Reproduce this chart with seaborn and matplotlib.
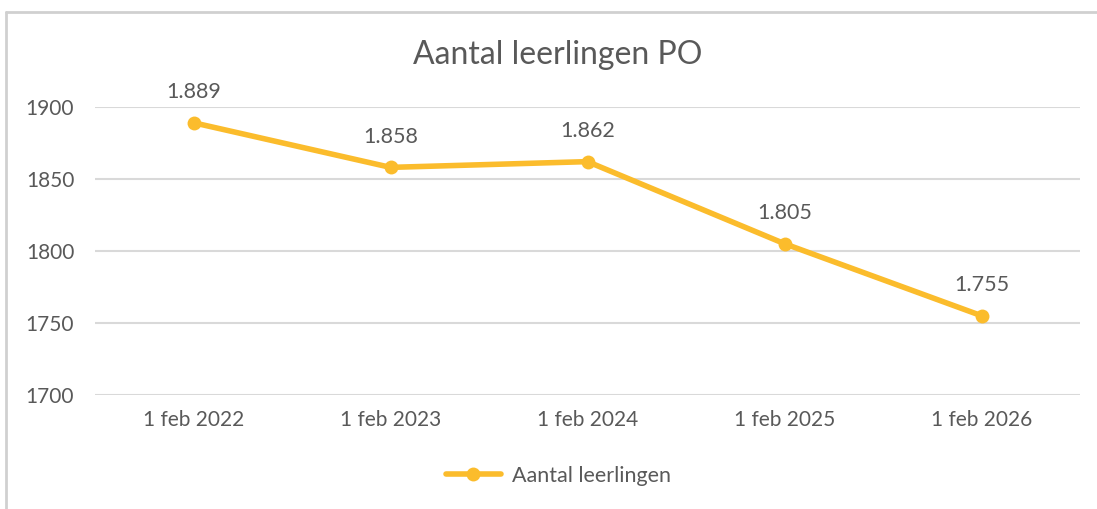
import matplotlib
matplotlib.use("Agg")
import matplotlib.pyplot as plt
import seaborn as sns
import pandas as pd
from matplotlib.lines import Line2D

# data
peildata = ["1 feb 2022", "1 feb 2023", "1 feb 2024", "1 feb 2025", "1 feb 2026"]
leerlingen = [1889, 1858, 1862, 1805, 1755]
yticks = [1700, 1750, 1800, 1850, 1900]

df = pd.DataFrame({"peildatum": peildata, "leerlingen": leerlingen})

sns.set_theme(style="white")
plt.rcParams["font.family"] = ["Lato", "DejaVu Sans"]

geel = "#FBBC2C"
grijs = "#595959"

fig = plt.figure(figsize=(10.97, 5.09), dpi=100)
ax = fig.add_axes([0.0866, 0.224, 0.898, 0.566])

sns.lineplot(data=df, x="peildatum", y="leerlingen", ax=ax, color=geel,
             linewidth=4, marker="o", markersize=10, markeredgewidth=0)

for i, v in enumerate(leerlingen):
    lbl = f"{v:,}".replace(",", ".")
    ax.annotate(lbl, (i, v), xytext=(0, 15), textcoords="offset points",
                ha="center", va="bottom", fontsize=15.5, color=grijs)

ax.set_xlim(-0.5, len(peildata) - 0.5)
ax.set_ylim(1700, 1900)
ax.set_yticks(yticks)
ax.yaxis.grid(True, color="#D9D9D9", linewidth=1.5)
ax.set_axisbelow(True)
for s in ax.spines.values():
    s.set_visible(False)
ax.tick_params(axis="both", length=0, labelsize=15, labelcolor=grijs)
ax.tick_params(axis="y", pad=15)
ax.tick_params(axis="x", pad=11)
ax.set_xlabel("")
ax.set_ylabel("")

fig.text(0.508, 0.892, "Aantal leerlingen PO", ha="center", va="center",
         fontsize=23, color=grijs)

handle = Line2D([], [], color=geel, linewidth=4, marker="o", markersize=10,
                markeredgewidth=0)
fig.legend([handle], ["Aantal leerlingen"], loc="center", bbox_to_anchor=(0.509, 0.065),
           frameon=False, fontsize=15.5, labelcolor=grijs, handlelength=2.6,
           handletextpad=0.5)

# rand van het grafiekgebied (links en boven)
fig.add_artist(Line2D([0.0055, 0.0055], [0, 0.977], color="#D0D0D0", linewidth=2))
fig.add_artist(Line2D([0.0055, 1], [0.977, 0.977], color="#D0D0D0", linewidth=2))

fig.savefig("out.png", dpi=100)
